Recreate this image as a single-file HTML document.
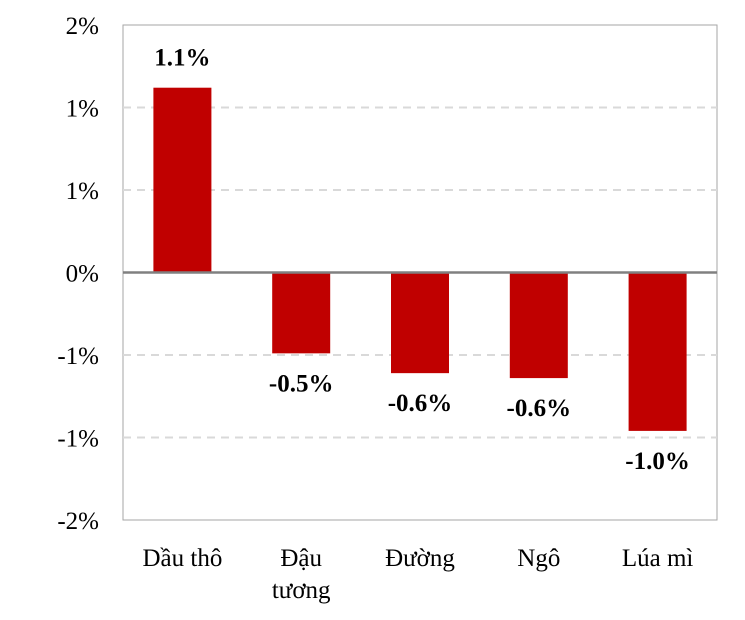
<!DOCTYPE html>
<html><head><meta charset="utf-8"><style>
body{margin:0;background:#fff;}
svg{display:block;font-family:"Liberation Serif",serif;}
</style></head><body>
<svg id="chart" width="745" height="620"></svg>
<script>
const categories=["Dầu thô","Đậu|tương","Đường","Ngô","Lúa mì"];
const values=[1.12,-0.49,-0.61,-0.64,-0.96];
const valueLabels=["1.1%","-0.5%","-0.6%","-0.6%","-1.0%"];
const tickValues=[1.5,1.0,0.5,0,-0.5,-1.0,-1.5];
const tickLabels=["2%","1%","1%","0%","-1%","-1%","-2%"];
const NS="http://www.w3.org/2000/svg";
const svg=document.getElementById('chart');
const L=123,R=717,T=25,B=520,yMax=1.5,yMin=-1.5;
const y=v=>T+(yMax-v)/(yMax-yMin)*(B-T);
const bw=(R-L)/categories.length;
const x=i=>L+bw*(i+0.5);
function mk(tag,attrs,text){const e=document.createElementNS(NS,tag);for(const k in attrs)e.setAttribute(k,attrs[k]);if(text!==undefined)e.textContent=text;svg.appendChild(e);return e;}
const frame=mk('rect',{x:L,y:T,width:R-L,height:B-T,fill:'none',stroke:'#a6a6a6','stroke-width':1});


tickValues.forEach((v,i)=>{
  if(v!==0&&v!==yMax&&v!==yMin){
    const g=mk('line',{x1:L,x2:R,y1:y(v),y2:y(v),stroke:'#d9d9d9','stroke-width':2,'stroke-dasharray':'8,6'});
    
    
  }
  const t=mk('text',{x:L-24,y:y(v)+9,'text-anchor':'end','font-size':25,fill:'#000'},tickLabels[i]);
  
  
});
values.forEach((v,i)=>{
  const top=Math.min(y(v),y(0)),h=Math.abs(y(v)-y(0));
  const b=mk('rect',{x:x(i)-29,y:top,width:58,height:h,fill:'#c00000'});
  
  
  const ly=v>=0?y(v)-22:y(v)+38;
  const t=mk('text',{x:x(i),y:ly,'text-anchor':'middle','font-size':25,'font-weight':'bold',fill:'#000'},valueLabels[i]);
  
  
  categories[i].split('|').forEach((line,j)=>{
    const c=mk('text',{x:x(i),y:566+j*32,'text-anchor':'middle','font-size':25,fill:'#000'},line);
    
    
  });
});
const z=mk('line',{x1:L,x2:R,y1:y(0),y2:y(0),stroke:'#808080','stroke-width':2.5});


</script>
</body></html>
